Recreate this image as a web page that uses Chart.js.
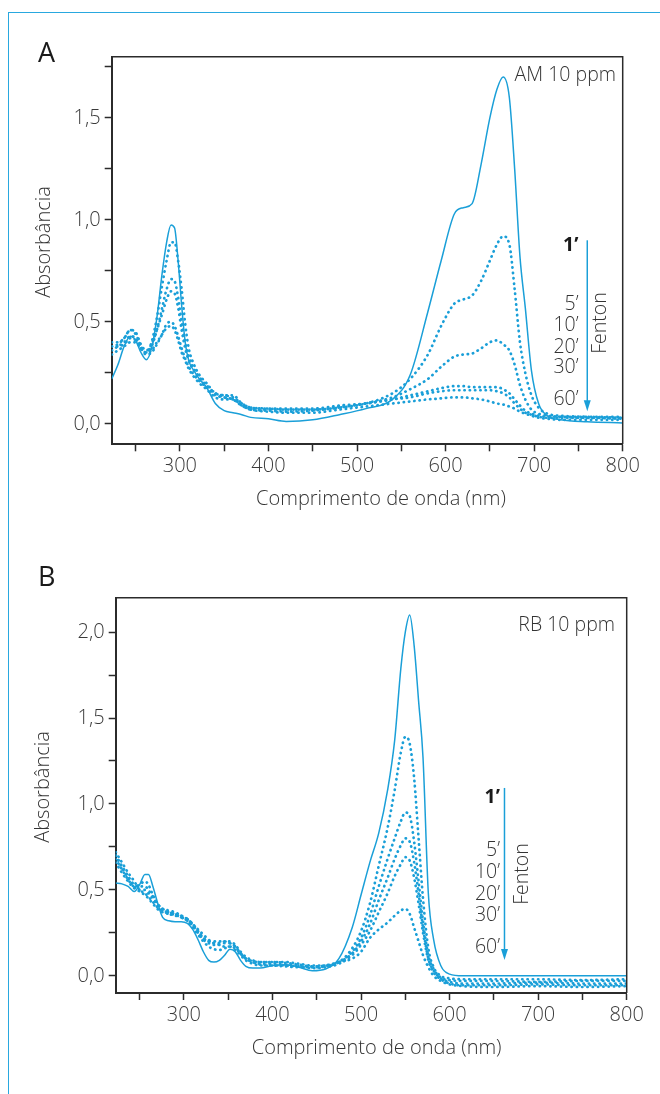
<!DOCTYPE html>
<html lang="pt">
<head>
<meta charset="utf-8">
<title>Espectros UV-Vis - degradação Fenton</title>
<script src="https://cdn.jsdelivr.net/npm/chart.js@4.4.1/dist/chart.umd.min.js"></script>
<style>
  html, body { margin: 0; padding: 0; background: #fff; }
  body { width: 660px; height: 1094px; position: relative; overflow: hidden; font-family: 'Open Sans', 'Noto Sans', sans-serif; color: #333; }
  .frame { position: absolute; left: 7.5px; top: 11.5px; right: -2px; bottom: -2px; border-top: 1.5px solid #29a8df; border-left: 1.5px solid #29a8df; }
  canvas { position: absolute; left: 0; }
  .t { position: absolute; line-height: 1; white-space: nowrap; font-weight: 300; font-size: 19.5px; }
  .panel { font-size: 27px; font-weight: 500; color: #1a1a1a; }
  .times { position: absolute; text-align: right; }
  .times div { position: absolute; right: 0; line-height: 1; font-size: 19.5px; font-weight: 300; white-space: nowrap; }
  .times .first { font-weight: 700; color: #1a1a1a; }
  .rot { transform: translate(-50%, -50%) rotate(-90deg); }
  .cx { transform: translateX(-50%); }
</style>
</head>
<body>
<div class="frame"></div>
<canvas id="chartA" width="660" height="530" style="top:0"></canvas>
<canvas id="chartB" width="660" height="554" style="top:540px"></canvas>

<!-- painel A -->
<div class="t panel" style="left:38px; top:37.7px">A</div>
<div class="t" style="right:44px; top:64.4px">AM 10 ppm</div>
<div class="t rot" style="left:43.3px; top:241.5px; font-size:20px">Absorbância</div>
<div class="t cx" style="left:381px; top:488.2px; font-size:20px">Comprimento de onda (nm)</div>
<div class="times" style="left:578.5px; top:0">
  <div class="first" style="top:234.4px">1’</div>
  <div style="top:292.7px">5’</div>
  <div style="top:314.4px">10’</div>
  <div style="top:336px">20’</div>
  <div style="top:356px">30’</div>
  <div style="top:387.7px">60’</div>
</div>
<div class="t rot" style="left:598.9px; top:323.3px">Fenton</div>

<!-- painel B -->
<div class="t panel" style="left:38px; top:562px">B</div>
<div class="t" style="right:45px; top:614.4px">RB 10 ppm</div>
<div class="t rot" style="left:41.7px; top:786.7px; font-size:20px">Absorbância</div>
<div class="t cx" style="left:376.7px; top:1037.2px; font-size:20px">Comprimento de onda (nm)</div>
<div class="times" style="left:500px; top:0">
  <div class="first" style="top:785.7px">1’</div>
  <div style="top:839.4px">5’</div>
  <div style="top:860.7px">10’</div>
  <div style="top:882.7px">20’</div>
  <div style="top:904.4px">30’</div>
  <div style="top:935.7px">60’</div>
</div>
<div class="t rot" style="left:520.8px; top:874.2px">Fenton</div>

<script>
// comprimentos de onda (nm) - azul de metileno (AM)
const wavelengthA = [223, 230, 237, 244, 250, 256, 262, 268, 274, 280,
  285, 290, 294, 298, 302, 306, 310, 316, 322, 330,
  340, 350, 360, 370, 380, 400, 420, 450, 480, 510,
  540, 560, 580, 595, 610, 620, 630, 640, 650, 658,
  665, 672, 678, 684, 690, 697, 705, 715, 730, 760, 800];

// absorbância AM por tempo de reação
const am1 = [0.22, 0.29, 0.38, 0.43, 0.41, 0.35, 0.315, 0.37, 0.52, 0.74,
  0.89, 0.975, 0.96, 0.80, 0.58, 0.40, 0.31, 0.26, 0.22, 0.18,
  0.10, 0.065, 0.055, 0.045, 0.032, 0.025, 0.012, 0.02, 0.045, 0.075,
  0.12, 0.24, 0.55, 0.80, 1.03, 1.06, 1.08, 1.27, 1.50, 1.64,
  1.70, 1.60, 1.25, 0.82, 0.57, 0.26, 0.10, 0.04, 0.02, 0.01, 0.005];
const am5 = [0.38, 0.39, 0.42, 0.46, 0.44, 0.38, 0.35, 0.40, 0.52, 0.68,
  0.80, 0.89, 0.89, 0.80, 0.66, 0.49, 0.37, 0.29, 0.24, 0.20,
  0.15, 0.14, 0.13, 0.10, 0.08, 0.075, 0.07, 0.07, 0.08, 0.10,
  0.15, 0.22, 0.34, 0.48, 0.59, 0.61, 0.63, 0.70, 0.80, 0.88,
  0.92, 0.88, 0.66, 0.40, 0.25, 0.14, 0.08, 0.05, 0.04, 0.035, 0.03];
const am10 = [0.36, 0.38, 0.40, 0.43, 0.42, 0.37, 0.35, 0.38, 0.46, 0.57,
  0.66, 0.71, 0.70, 0.62, 0.50, 0.40, 0.33, 0.27, 0.23, 0.19,
  0.15, 0.13, 0.12, 0.09, 0.07, 0.065, 0.06, 0.065, 0.08, 0.10,
  0.13, 0.17, 0.22, 0.28, 0.33, 0.34, 0.345, 0.37, 0.40, 0.41,
  0.39, 0.36, 0.29, 0.19, 0.12, 0.07, 0.05, 0.04, 0.035, 0.03, 0.03];
const am20 = [0.40, 0.40, 0.42, 0.46, 0.45, 0.39, 0.36, 0.39, 0.46, 0.54,
  0.61, 0.65, 0.64, 0.57, 0.46, 0.37, 0.31, 0.26, 0.22, 0.18,
  0.14, 0.13, 0.12, 0.09, 0.075, 0.07, 0.07, 0.07, 0.085, 0.10,
  0.12, 0.14, 0.16, 0.175, 0.185, 0.185, 0.18, 0.18, 0.18, 0.18,
  0.17, 0.15, 0.12, 0.09, 0.065, 0.05, 0.04, 0.035, 0.035, 0.035, 0.035];
const am30 = [0.34, 0.36, 0.38, 0.40, 0.40, 0.37, 0.34, 0.35, 0.39, 0.44,
  0.49, 0.50, 0.48, 0.43, 0.37, 0.32, 0.28, 0.24, 0.21, 0.18,
  0.15, 0.14, 0.14, 0.10, 0.08, 0.075, 0.075, 0.075, 0.09, 0.10,
  0.12, 0.13, 0.15, 0.16, 0.165, 0.165, 0.165, 0.165, 0.165, 0.16,
  0.15, 0.13, 0.10, 0.075, 0.055, 0.045, 0.035, 0.03, 0.03, 0.03, 0.025];
const am60 = [0.38, 0.38, 0.39, 0.42, 0.41, 0.37, 0.35, 0.36, 0.40, 0.44,
  0.47, 0.48, 0.46, 0.41, 0.35, 0.31, 0.27, 0.23, 0.20, 0.17,
  0.13, 0.12, 0.12, 0.09, 0.07, 0.06, 0.055, 0.055, 0.07, 0.085,
  0.10, 0.11, 0.12, 0.125, 0.13, 0.13, 0.125, 0.12, 0.11, 0.10,
  0.095, 0.085, 0.075, 0.06, 0.05, 0.04, 0.03, 0.025, 0.02, 0.02, 0.02];

// comprimentos de onda (nm) - rodamina B (RB)
const wavelengthB = [223, 230, 237, 244, 250, 256, 260, 265, 270, 276,
  283, 290, 297, 304, 310, 316, 322, 328, 334, 340,
  346, 352, 358, 364, 370, 378, 386, 400, 415, 430,
  445, 460, 475, 490, 500, 510, 520, 530, 538, 545,
  550, 555, 560, 565, 570, 576, 582, 590, 600, 615,
  650, 700, 750, 800];

const rb1 = [0.54, 0.535, 0.52, 0.49, 0.53, 0.59, 0.59, 0.52, 0.43, 0.34,
  0.32, 0.315, 0.315, 0.305, 0.27, 0.21, 0.14, 0.09, 0.08, 0.09,
  0.12, 0.155, 0.14, 0.09, 0.055, 0.045, 0.045, 0.06, 0.065, 0.05,
  0.03, 0.04, 0.10, 0.28, 0.47, 0.66, 0.83, 1.08, 1.37, 1.79,
  2.0, 2.10, 1.92, 1.60, 1.27, 0.48, 0.21, 0.06, 0.01, 0.0,
  0.0, 0.0, 0.0, 0.0];
const rb5 = [0.70, 0.64, 0.58, 0.53, 0.52, 0.52, 0.50, 0.46, 0.42, 0.39,
  0.38, 0.37, 0.35, 0.33, 0.30, 0.26, 0.22, 0.20, 0.19, 0.19,
  0.20, 0.20, 0.18, 0.14, 0.11, 0.09, 0.08, 0.08, 0.075, 0.065,
  0.055, 0.06, 0.08, 0.16, 0.26, 0.42, 0.64, 0.86, 1.08, 1.30,
  1.39, 1.35, 1.15, 0.80, 0.45, 0.16, 0.05, 0.0, -0.015, -0.02,
  -0.02, -0.02, -0.025, -0.02];
const rb10 = [0.68, 0.62, 0.56, 0.52, 0.53, 0.55, 0.53, 0.47, 0.42, 0.39,
  0.37, 0.36, 0.34, 0.32, 0.29, 0.25, 0.21, 0.19, 0.18, 0.18,
  0.19, 0.19, 0.17, 0.13, 0.10, 0.08, 0.07, 0.07, 0.065, 0.06,
  0.05, 0.055, 0.08, 0.14, 0.22, 0.35, 0.52, 0.68, 0.80, 0.90,
  0.95, 0.93, 0.78, 0.55, 0.32, 0.12, 0.04, -0.01, -0.025, -0.03,
  -0.03, -0.035, -0.03, -0.03];
const rb20 = [0.72, 0.66, 0.60, 0.55, 0.50, 0.48, 0.46, 0.43, 0.40, 0.38,
  0.37, 0.36, 0.35, 0.33, 0.30, 0.27, 0.24, 0.21, 0.19, 0.18,
  0.17, 0.17, 0.16, 0.13, 0.10, 0.085, 0.08, 0.08, 0.08, 0.07,
  0.06, 0.06, 0.08, 0.13, 0.20, 0.30, 0.44, 0.57, 0.68, 0.76,
  0.80, 0.78, 0.66, 0.48, 0.28, 0.10, 0.03, -0.015, -0.035, -0.045,
  -0.045, -0.04, -0.045, -0.045];
const rb30 = [0.66, 0.60, 0.55, 0.51, 0.50, 0.50, 0.48, 0.45, 0.41, 0.38,
  0.36, 0.35, 0.34, 0.32, 0.28, 0.24, 0.20, 0.17, 0.155, 0.15,
  0.16, 0.17, 0.15, 0.12, 0.09, 0.07, 0.06, 0.06, 0.06, 0.055,
  0.045, 0.05, 0.07, 0.12, 0.18, 0.26, 0.37, 0.48, 0.58, 0.65,
  0.69, 0.67, 0.57, 0.42, 0.25, 0.09, 0.02, -0.02, -0.045, -0.055,
  -0.055, -0.05, -0.055, -0.055];
const rb60 = [0.70, 0.63, 0.57, 0.52, 0.49, 0.47, 0.45, 0.42, 0.39, 0.37,
  0.36, 0.355, 0.34, 0.33, 0.30, 0.26, 0.22, 0.20, 0.20, 0.20,
  0.20, 0.19, 0.17, 0.13, 0.10, 0.08, 0.065, 0.06, 0.055, 0.05,
  0.05, 0.06, 0.08, 0.10, 0.14, 0.22, 0.27, 0.31, 0.35, 0.38,
  0.39, 0.36, 0.28, 0.20, 0.12, 0.05, 0.0, -0.03, -0.05, -0.06,
  -0.065, -0.06, -0.065, -0.06];

const LINE_COLOR = '#1a9fd8';
const AXIS_COLOR = '#2b2b2b';

Chart.defaults.font.family = "'Open Sans', 'Noto Sans', sans-serif";
Chart.defaults.font.size = 20;
Chart.defaults.font.weight = '300';
Chart.defaults.color = '#3a3a3a';

function toPoints(wl, values) {
    return wl.map((x, i) => ({ x: x, y: values[i] }));
}

function buildDatasets(wl, solid, dotted) {
    const sets = dotted.map(vals => ({
        data: toPoints(wl, vals),
        borderColor: LINE_COLOR,
        borderWidth: 2.7,
        borderDash: [0.3, 5],
        borderCapStyle: 'round',
        pointRadius: 0,
        cubicInterpolationMode: 'monotone',
        fill: false
    }));
    // espectro inicial (1') em linha contínua
    sets.push({
        data: toPoints(wl, solid),
        borderColor: LINE_COLOR,
        borderWidth: 1.5,
        pointRadius: 0,
        cubicInterpolationMode: 'monotone',
        fill: false
    });
    return sets;
}

// moldura superior/direita da área do gráfico
const boxPlugin = {
    id: 'box',
    afterDraw(chart) {
        const { ctx, chartArea: a } = chart;
        ctx.save();
        ctx.strokeStyle = AXIS_COLOR;
        ctx.lineWidth = 1.5;
        ctx.beginPath();
        ctx.moveTo(a.left, a.top);
        ctx.lineTo(a.right, a.top);
        ctx.lineTo(a.right, a.bottom);
        ctx.stroke();
        ctx.restore();
    }
};

// seta "Fenton" posicionada em coordenadas de dados
function arrowPlugin(spec) {
    return {
        id: 'fentonArrow',
        afterDatasetsDraw(chart) {
            const { ctx, scales } = chart;
            const x = scales.x.getPixelForValue(spec.x);
            const y0 = scales.y.getPixelForValue(spec.from);
            const y1 = scales.y.getPixelForValue(spec.to);
            ctx.save();
            ctx.strokeStyle = LINE_COLOR;
            ctx.fillStyle = LINE_COLOR;
            ctx.lineWidth = 1.5;
            ctx.beginPath();
            ctx.moveTo(x, y0);
            ctx.lineTo(x, y1 - 8);
            ctx.stroke();
            ctx.beginPath();
            ctx.moveTo(x - 3.5, y1 - 11);
            ctx.lineTo(x + 3.5, y1 - 11);
            ctx.lineTo(x, y1);
            ctx.closePath();
            ctx.fill();
            ctx.restore();
        }
    };
}

function makeChart(canvasId, wl, solid, dotted, yMax, padding, arrow) {
    const ctx = document.getElementById(canvasId).getContext('2d');
    return new Chart(ctx, {
        type: 'line',
        data: { datasets: buildDatasets(wl, solid, dotted) },
        options: {
            responsive: false,
            animation: false,
            devicePixelRatio: 1,
            layout: { padding: padding },
            plugins: { legend: { display: false }, tooltip: { enabled: false } },
            scales: {
                x: {
                    type: 'linear',
                    min: 223,
                    max: 800,
                    afterFit: s => { s.height = 80; },
                    ticks: {
                        stepSize: 50,
                        includeBounds: false,
                        autoSkip: false,
                        maxRotation: 0,
                        padding: 3,
                        callback: v => (v % 100 === 0 ? String(v) : '')
                    },
                    grid: { drawOnChartArea: false, drawTicks: true, tickLength: 7, tickWidth: 1.5, tickColor: AXIS_COLOR },
                    border: { display: true, color: AXIS_COLOR, width: 2 }
                },
                y: {
                    min: -0.1,
                    max: yMax,
                    afterFit: s => { s.width = 80; },
                    ticks: {
                        stepSize: 0.25,
                        includeBounds: false,
                        autoSkip: false,
                        padding: 4,
                        callback: v => (Math.abs(v * 2 - Math.round(v * 2)) < 1e-6 ? v.toFixed(1).replace('.', ',') : '')
                    },
                    grid: { drawOnChartArea: false, drawTicks: true, tickLength: 7, tickWidth: 1.5, tickColor: AXIS_COLOR },
                    border: { display: true, color: AXIS_COLOR, width: 2 }
                }
            }
        },
        plugins: [boxPlugin, arrowPlugin(arrow)]
    });
}

makeChart('chartA', wavelengthA, am1, [am5, am10, am20, am30, am60], 1.8,
    { left: 31.7, right: 37.3, top: 56.7, bottom: 5.7 },
    { x: 760, from: 0.90, to: 0.062 });

makeChart('chartB', wavelengthB, rb1, [rb5, rb10, rb20, rb30, rb60], 2.2,
    { left: 35.7, right: 33.3, top: 57.7, bottom: 21 },
    { x: 662, from: 1.093, to: 0.092 });
</script>
</body>
</html>
